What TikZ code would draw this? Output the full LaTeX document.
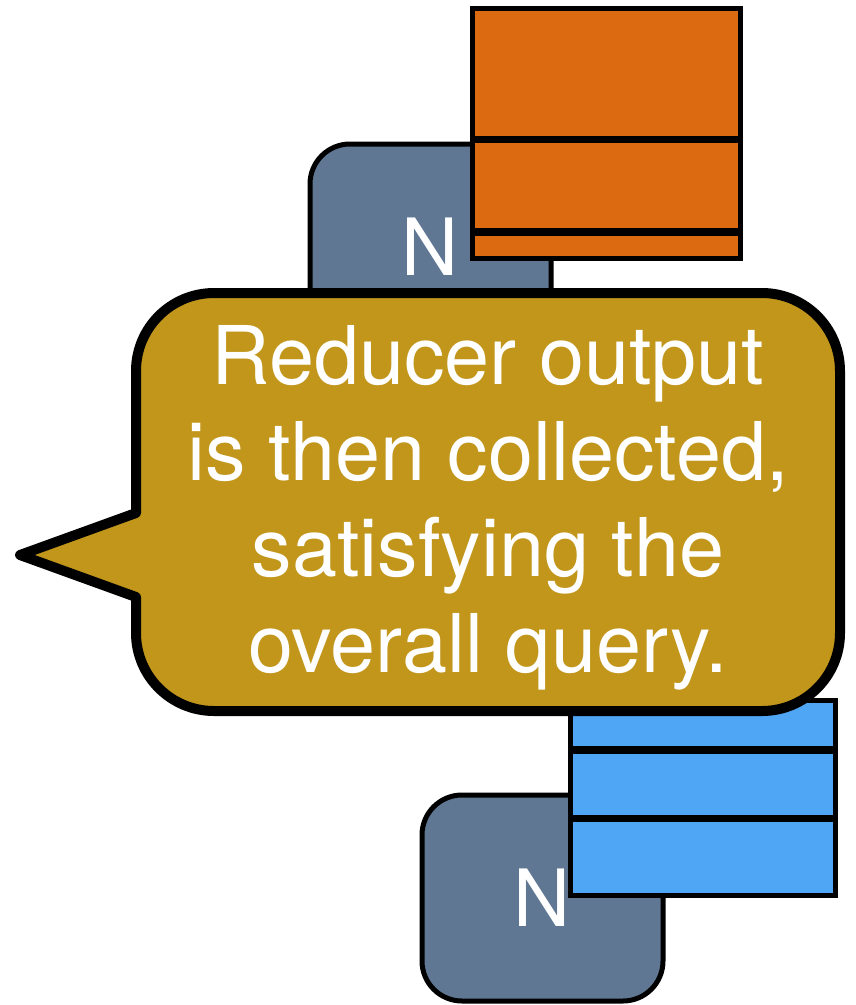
\documentclass[tikz,border=0pt]{standalone}
\usepackage{fontspec}
\setmainfont{TeX Gyre Heros}
\definecolor{nodeblue}{HTML}{5F7793}
\definecolor{orangefill}{HTML}{DC6A11}
\definecolor{bluefill}{HTML}{4FA6F5}
\definecolor{goldfill}{HTML}{C1961B}
\begin{document}
\begin{tikzpicture}[x=1pt,y=-1pt,
  machine/.style={draw=black,line width=5pt,fill=nodeblue,rounded corners=40pt,
    minimum width=241pt,minimum height=206pt,inner sep=0pt,text=white,
    font=\fontsize{79}{79}\selectfont},
  orangerow/.style={draw=black,line width=5pt,fill=orangefill,minimum width=268pt,inner sep=0pt},
  bluerow/.style={draw=black,line width=5pt,fill=bluefill,minimum width=265pt,inner sep=0pt},
  bubble/.style={draw=black,line width=10pt,fill=goldfill,line join=round},
  bubbletext/.style={text=white,align=center,font=\fontsize{81}{96}\selectfont,inner sep=0pt}
]
\useasboundingbox (0,0) rectangle (856,1005);
% top machine and orange stack
\node[machine] (n1) at (430.5,247) {N};
\node[orangerow,minimum height=130pt] (o1) at (606,73) {};
\node[orangerow,minimum height=90pt] (o2) at (606,185) {};
\node[orangerow,minimum height=25pt] (o3) at (606,245.5) {};
% bottom machine and blue stack
\node[machine] (n2) at (542.5,898) {N};
\node[bluerow,minimum height=48pt] (b1) at (702.5,724) {};
\node[bluerow,minimum height=66pt] (b2) at (702.5,784) {};
\node[bluerow,minimum height=76pt] (b3) at (702.5,857) {};
% speech bubble
\draw[bubble] (136,513) -- (136,371) arc[start angle=180,end angle=270,radius=78]
  -- (762,293) arc[start angle=270,end angle=360,radius=78]
  -- (840,633) arc[start angle=0,end angle=90,radius=78]
  -- (214,711) arc[start angle=90,end angle=180,radius=78]
  -- (136,597) -- (20,555) -- cycle;
\node[bubbletext] (msg) at (488,508) {Reducer output\\is then collected,\\satisfying the\\overall query.};
\end{tikzpicture}
\end{document}
